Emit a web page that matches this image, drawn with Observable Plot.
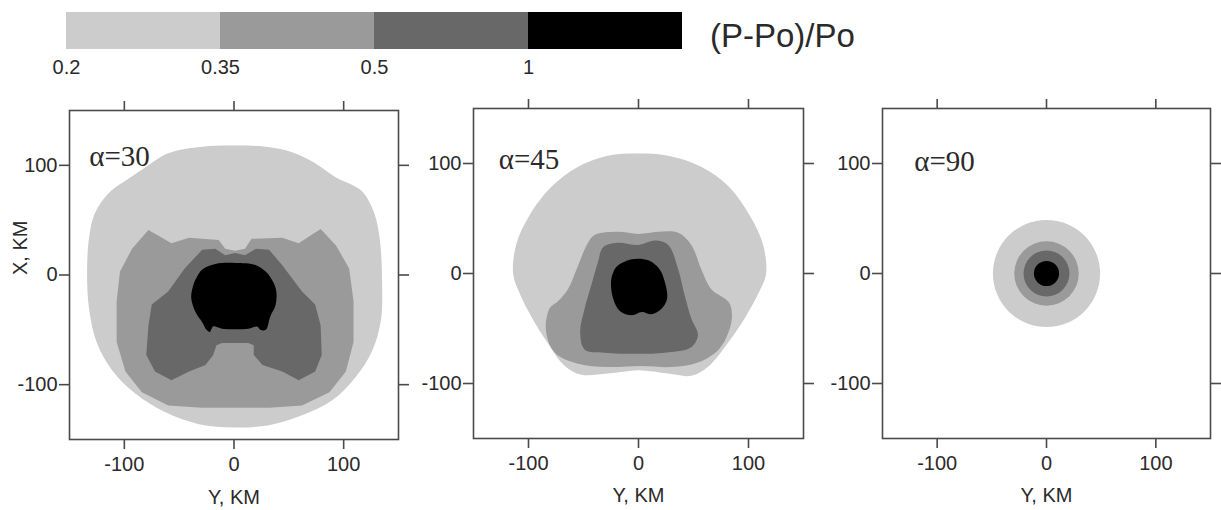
<!DOCTYPE html>
<html>
<head>
<meta charset="utf-8">
<script src="https://cdn.jsdelivr.net/npm/d3@7"></script>
<script src="https://cdn.jsdelivr.net/npm/@observablehq/plot@0.6"></script>
<style>
  html, body { margin: 0; padding: 0; background: #fff; }
  #root { position: relative; width: 1221px; height: 510px; overflow: hidden; font-family: "Liberation Sans", Arial, sans-serif; }
  #root > svg, #root > div { position: absolute; }
</style>
</head>
<body>
<div id="root"></div>
<script>
// ---------- legend ----------
const levelLabels = ["0.2", "0.35", "0.5", "1"];
const grays = ["#cccccc", "#9a9a9a", "#686868", "#000000"];
const legendTitle = "(P-Po)/Po";

// ---------- panels ----------
const panelTitles = ["\u03b1=30", "\u03b1=45", "\u03b1=90"];
const axisTicks = [-100, 0, 100];

// alpha = 30 contours, points as [Y km, X km]
const a30_020 = [[0,118],[-29,117],[-60,111],[-84,96],[-96,88],[-114,75],[-127,56],[-132,35],[-134,2],[-132,-32],[-125,-62],[-111,-87],[-90,-108],[-63,-125],[-32,-136],[0,-139],[32,-137],[62,-128],[90,-114],[111,-93],[126,-69],[134,-41],[135,-5],[133,32],[128,56],[118,75],[108,82],[93,89],[74,102],[53,112],[29,117]];
const a30_035 = [[-78,41],[-57,29],[-41,34],[-14,32],[-8,24],[1,22],[10,24],[16,33],[44,34],[59,29],[79,42],[93,27],[105,6],[109,-24],[109,-61],[102,-88],[87,-107],[62,-119],[32,-121],[1,-121],[-29,-121],[-60,-119],[-84,-107],[-99,-88],[-107,-61],[-107,-24],[-104,3],[-93,24]];
const a30_050 = [[-29,23],[-17,24],[-8,18],[1,20],[10,18],[20,24],[32,23],[44,9],[62,-15],[74,-27],[79,-46],[80,-73],[74,-88],[59,-96],[44,-88],[26,-82],[18,-73],[18,-64],[13,-62],[-11,-62],[-16,-64],[-19,-73],[-26,-82],[-41,-88],[-57,-96],[-72,-88],[-80,-73],[-78,-46],[-75,-27],[-60,-15],[-45,6]];
const a30_100 = [[-29,5],[-17,10],[1,11],[20,9],[30,2],[38,-12],[38,-27],[33,-38],[29,-50],[24,-50],[21,-47],[13,-49],[-11,-49],[-19,-47],[-22,-52],[-25,-50],[-29,-43],[-35,-34],[-39,-21],[-37,-9],[-34,-2]];

// alpha = 45 contours
const a45_020 = [[0,109],[-28,107],[-55,97],[-79,79],[-99,53],[-111,27],[-114,0],[-109,-16],[-97,-40],[-82,-64],[-67,-84],[-52,-92],[-28,-91],[0,-88],[27,-91],[48,-93],[63,-85],[82,-62],[97,-40],[110,-16],[116,0],[113,27],[101,53],[82,79],[57,97],[27,107]];
const a45_035 = [[-40,35],[-19,38],[0,36],[18,38],[36,37],[48,26],[57,4],[66,-14],[82,-26],[85,-38],[82,-53],[73,-69],[54,-81],[30,-85],[3,-84],[-28,-85],[-55,-82],[-76,-72],[-84,-53],[-81,-32],[-73,-25],[-64,-14],[-55,7],[-47,26]];
const a45_050 = [[-32,24],[-19,28],[0,26],[15,30],[27,26],[36,4],[42,-20],[48,-41],[54,-56],[48,-67],[24,-72],[0,-73],[-31,-72],[-49,-69],[-53,-53],[-49,-32],[-43,-11],[-37,10]];
const a45_100 = [[-19,7],[-6,13],[9,12],[19,4],[24,-8],[26,-23],[21,-32],[12,-37],[3,-35],[-6,-38],[-17,-34],[-23,-23],[-25,-8],[-23,1]];

// alpha = 90 contours: concentric rings, radius in km
const a90_radii = [49, 29.5, 21, 11.5];

// ---------- drawing ----------
const root = document.getElementById("root");
const sans = "'Liberation Sans', Arial, sans-serif";
const serif = "'Liberation Serif', 'Times New Roman', serif";
const frameColor = "#4a4a4a";
const textColor = "#2a2a2a";
const fmt = d => String(d); // plain hyphen minus as in the original

// legend bar
const legendData = levelLabels.map((lab, i) => ({i, lab, fill: grays[i]}));
const legend = Plot.plot({
  width: 700, height: 88,
  marginLeft: 66, marginRight: 18, marginTop: 12, marginBottom: 39,
  x: {domain: [0, levelLabels.length]},
  y: {domain: [0, 1], axis: null},
  style: {fontFamily: sans, fontSize: "20px", color: textColor, background: "transparent", maxWidth: "none"},
  marks: [
    Plot.rect(legendData, {x1: "i", x2: d => d.i + 1, y1: 0, y2: 1, fill: "fill"}),
    Plot.axisX(legendData.map(d => d.i), {anchor: "bottom", tickSize: 0, tickPadding: 10, tickFormat: i => levelLabels[i], label: null, fontSize: 20})
  ]
});
legend.style.left = "0px"; legend.style.top = "0px";
root.appendChild(legend);

const title = document.createElement("div");
title.textContent = legendTitle;
title.style.cssText = `left:710px; top:19px; font-size:33px; line-height:1; color:${textColor}; font-family:${sans}; white-space:nowrap;`;
root.appendChild(title);

function panel({left, top, width, height, mL, mR, mT, mB, shapes, curves, rings, titleText, titleY, titleX, showXLabel, labelDy}) {
  const marks = [];
  if (shapes) {
    shapes.forEach((pts, i) => {
      marks.push(Plot.line(pts, {x: d => d[0], y: d => d[1], fill: grays[i], stroke: "none", curve: curves[i]}));
    });
  }
  if (rings) {
    marks.push(Plot.dot(rings.map((r, i) => ({r, i})), {x: 0, y: 0, r: "r", fill: d => grays[d.i], stroke: "none"}));
  }
  marks.push(
    Plot.frame({stroke: frameColor, strokeWidth: 1.6}),
    Plot.axisX(axisTicks, {anchor: "bottom", tickSize: 10, tickPadding: 7, tickFormat: fmt, label: null, stroke: frameColor, strokeWidth: 1.6, fontSize: 20, fill: textColor}),
    Plot.axisX(axisTicks, {anchor: "top", tickSize: 10, tickFormat: () => "", label: null, stroke: frameColor, strokeWidth: 1.6}),
    Plot.axisY(axisTicks, {anchor: "left", tickSize: 10, tickPadding: 2, tickFormat: fmt, label: null, stroke: frameColor, strokeWidth: 1.6, fontSize: 20, fill: textColor}),
    Plot.axisY(axisTicks, {anchor: "right", tickSize: 10, tickFormat: () => "", label: null, stroke: frameColor, strokeWidth: 1.6}),
    Plot.text([titleText], {x: titleX, y: titleY, textAnchor: "start", lineAnchor: "middle", fontFamily: serif, fontSize: 29, fill: textColor}),
    Plot.text(["Y, KM"], {frameAnchor: "bottom", lineAnchor: "middle", dy: labelDy, fontSize: 20, fill: textColor})
  );
  if (showXLabel) {
    marks.push(Plot.text(["X, KM"], {frameAnchor: "left", rotate: -90, lineAnchor: "middle", dx: -49, fontSize: 20, fill: textColor}));
  }
  const innerW = width - mL - mR;
  const svg = Plot.plot({
    width, height, marginLeft: mL, marginRight: mR, marginTop: mT, marginBottom: mB,
    x: {domain: [-150, 150]},
    y: {domain: [-150, 150]},
    r: {type: "linear", domain: [0, 150], range: [0, innerW / 2]},
    style: {fontFamily: sans, fontSize: "20px", color: textColor, background: "transparent", maxWidth: "none", overflow: "visible"},
    marks
  });
  svg.style.left = left + "px"; svg.style.top = top + "px";
  root.appendChild(svg);
}

panel({left: 0, top: 90, width: 410, height: 420, mL: 69, mR: 12, mT: 20, mB: 71,
  shapes: [a30_020, a30_035, a30_050, a30_100],
  curves: ["catmull-rom-closed", "linear-closed", "linear-closed", "catmull-rom-closed"],
  titleText: panelTitles[0], titleX: -132, titleY: 108, showXLabel: true, labelDy: 58});

panel({left: 410, top: 88, width: 420, height: 420, mL: 63, mR: 27, mT: 20, mB: 70,
  shapes: [a45_020, a45_035, a45_050, a45_100],
  curves: ["catmull-rom-closed", "catmull-rom-closed", "catmull-rom-closed", "catmull-rom-closed"],
  titleText: panelTitles[1], titleX: -127, titleY: 103, showXLabel: false, labelDy: 57});

panel({left: 830, top: 88, width: 391, height: 420, mL: 52, mR: 11, mT: 20, mB: 70,
  rings: a90_radii,
  titleText: panelTitles[2], titleX: -121, titleY: 102, showXLabel: false, labelDy: 57});
</script>
</body>
</html>
